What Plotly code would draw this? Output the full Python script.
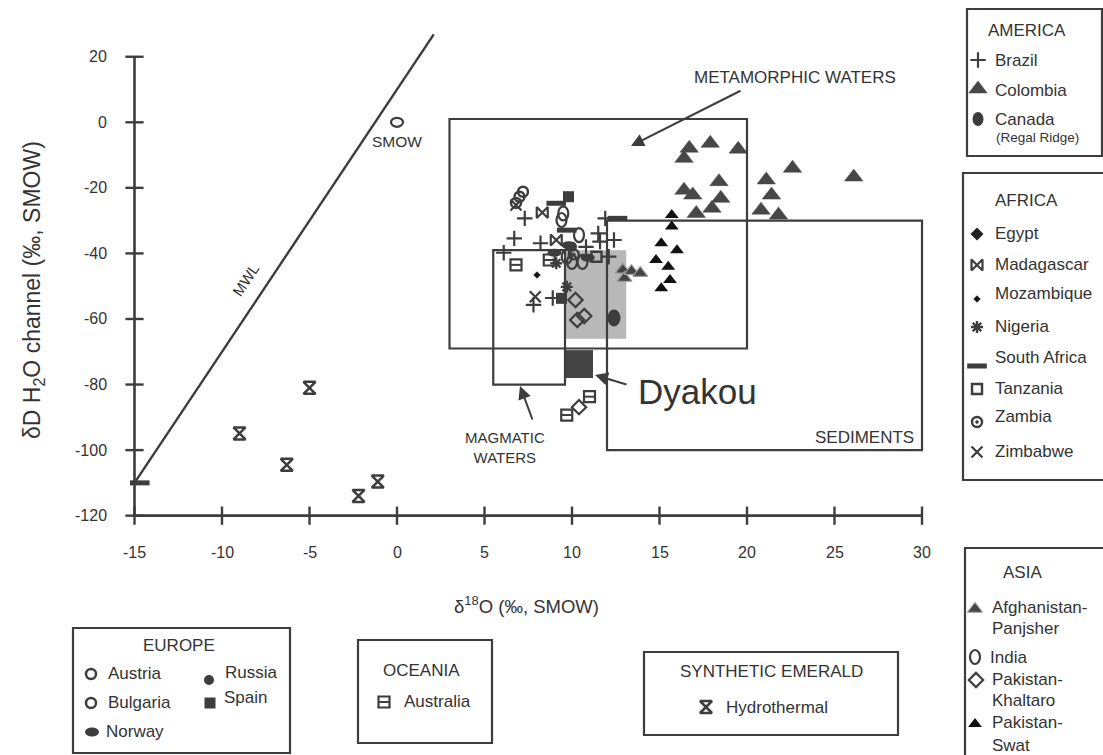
import plotly.graph_objects as go

# ---------------- data ----------------
x_ticks = [-15, -10, -5, 0, 5, 10, 15, 20, 25, 30]
y_ticks = [20, 0, -20, -40, -60, -80, -100, -120]

mwl_x = [-15, 2.1]
mwl_y = [-110, 26.8]

# fields: metamorphic, sediments, magmatic
field_x0 = [3, 12, 5.5]
field_x1 = [20, 30, 9.6]
field_y0 = [-69, -100, -80]
field_y1 = [1, -30, -39]

dyakou_grey_x = [9.6, 13.1]
dyakou_grey_y = [-66, -39]
dyakou_dark_x = [9.6, 11.2]
dyakou_dark_y = [-78, -69.5]

brazil_x = [7.3, 6.7, 8.2, 6.1, 7.8, 8.9, 11.9, 11.5, 12.4, 11.6, 12.1, 10.8]
brazil_y = [-29.3, -35.4, -36.9, -39.8, -55.7, -53.6, -29.3, -33.9, -35.9, -36.4, -41.0, -38.0]

colombia_x = [16.7, 16.4, 17.9, 19.5, 16.4, 16.9, 18.4, 18.5, 18.0, 17.1, 21.1, 21.4, 20.8, 21.8, 22.6, 26.1]
colombia_y = [-7.9, -11.0, -6.4, -8.2, -20.7, -22.2, -18.1, -23.2, -26.2, -27.8, -17.6, -22.2, -26.8, -28.3, -14.0, -16.7]

canada_x = [12.4]
canada_y = [-59.7]

madagascar_x = [8.3, 9.1]
madagascar_y = [-27.5, -35.9]

mozambique_x = [8.0]
mozambique_y = [-46.6]

nigeria_x = [9.7, 9.1]
nigeria_y = [-50.2, -43.0]

southafrica_x = [9.1, 9.7, 12.6, -14.7]
southafrica_y = [-24.7, -32.9, -29.3, -110]

tanzania_x = [11.4]
tanzania_y = [-41.0]

zambia_x = [10.1]
zambia_y = [-40.3]

zimbabwe_x = [6.8, 7.9]
zimbabwe_y = [-25.2, -53.2]

austria_x = [7.2, 6.8]
austria_y = [-21.2, -24.6]
bulgaria_x = [7.0]
bulgaria_y = [-22.7]
norway_x = [9.0, 9.8, 10.9]
norway_y = [-39.8, -37.5, -41.3]
russia_x = [10.0]
russia_y = [-38.0]
spain_x = [9.8, 9.4]
spain_y = [-22.7, -53.7]

afghan_x = [12.9, 13.0, 13.4, 13.9]
afghan_y = [-45.0, -47.5, -45.4, -46.0]
india_x = [9.4, 9.5, 10.4, 10.6, 9.7, 10.0]
india_y = [-29.8, -27.8, -34.4, -42.6, -41.0, -42.6]
khaltaro_x = [10.2, 10.3, 10.7, 10.4]
khaltaro_y = [-54.2, -60.3, -59.1, -86.9]
swat_x = [15.7, 15.7, 15.1, 16.0, 14.8, 15.5, 15.6, 15.1]
swat_y = [-28.3, -31.8, -36.9, -39.0, -42.0, -44.1, -48.1, -50.6]

australia_x = [6.8, 8.7, 9.7, 11.0]
australia_y = [-43.5, -42.0, -89.3, -83.7]

hydro_x = [-9.0, -5.0, -6.3, -2.2, -1.1]
hydro_y = [-94.9, -81.0, -104.5, -114.0, -109.6]

smow_x = [0]
smow_y = [0]

# ---------------- geometry ----------------
W, H = 1103, 755
X0PX, SX = 397.0, 17.5      # pixel of x=0, px per unit
Y0PX, SY = 122.3, 3.278     # pixel of y=0, px per unit
xr = [-X0PX / SX, (W - X0PX) / SX]
yr = [(Y0PX - H) / SY, Y0PX / SY]

DARK = '#3d3d3d'
TXT = '#333333'
FONT = 'Liberation Sans, Arial, Helvetica, sans-serif'

fig = go.Figure()
shapes = []
ann = []


def add_pts(xs, ys, style, pixel=False):
    fig.add_trace(go.Scatter(
        x=xs, y=ys, mode='markers', marker=style, hoverinfo='skip', showlegend=False,
        xaxis='x2' if pixel else 'x', yaxis='y2' if pixel else 'y'))


def add_ellipses(xs, ys, wpx, hpx, filled, pixel=False, lw=2.2):
    for x, y in zip(xs, ys):
        if pixel:
            dx, dy = wpx / 2, hpx / 2
            ref = ('x2', 'y2')
        else:
            dx, dy = wpx / 2 / SX, hpx / 2 / SY
            ref = ('x', 'y')
        shapes.append(dict(type='circle', xref=ref[0], yref=ref[1],
                           x0=x - dx, x1=x + dx, y0=y - dy, y1=y + dy,
                           line=dict(color=DARK, width=0 if filled else lw),
                           fillcolor=DARK if filled else 'rgba(0,0,0,0)', layer='above'))


def opn(symbol, size, w=2.2):
    return dict(symbol=symbol, size=size, color=DARK, line=dict(width=w, color=DARK))


styles = {
    'Brazil': opn('cross-thin-open', 11, 2.2),
    'Colombia': dict(symbol='triangle-up', size=16, color='#474747', line=dict(width=0.5, color='#474747')),
    'Egypt': dict(symbol='diamond', size=10, color='#222', line=dict(width=0)),
    'Madagascar': opn('bowtie-open', 11, 2.2),
    'Mozambique': dict(symbol='diamond', size=7, color='#111', line=dict(width=1.5, color='#eeeeee')),
    'Nigeria': opn('asterisk-open', 10, 2.4),
    'South Africa': opn('line-ew', 14, 5),
    'Tanzania': opn('square-open', 10, 2.4),
    'Zambia': opn('circle-open-dot', 10, 2.4),
    'Zimbabwe': opn('x-thin-open', 11, 2.2),
    'Austria': opn('circle-open', 10, 2.5),
    'Bulgaria': opn('circle-open', 10, 2.5),
    'Russia': dict(symbol='circle', size=10, color=DARK, line=dict(width=0)),
    'Spain': dict(symbol='square', size=11, color=DARK, line=dict(width=0)),
    'Afghanistan': dict(symbol='triangle-up', size=13, color='#444', line=dict(width=1.2, color='#9a9a9a')),
    'Khaltaro': opn('diamond-open', 11, 2.2),
    'Swat': dict(symbol='triangle-up', size=12, color='#111', line=dict(width=0)),
    'Australia': opn('square-open', 11, 2.2),
    'AustraliaBar': opn('line-ew', 7, 2),
    'Hydrothermal': opn('hourglass-open', 12, 2.5),
}

# ---------------- fields ----------------
shapes.append(dict(type='rect', xref='x', yref='y', x0=dyakou_grey_x[0], x1=dyakou_grey_x[1],
                   y0=dyakou_grey_y[0], y1=dyakou_grey_y[1], fillcolor='#b8b8b8',
                   line=dict(width=0), layer='below'))
shapes.append(dict(type='rect', xref='x', yref='y', x0=dyakou_dark_x[0], x1=dyakou_dark_x[1],
                   y0=dyakou_dark_y[0], y1=dyakou_dark_y[1], fillcolor='#444444',
                   line=dict(width=0), layer='below'))
for a, b, c, d in zip(field_x0, field_x1, field_y0, field_y1):
    shapes.append(dict(type='rect', xref='x', yref='y', x0=a, x1=b, y0=c, y1=d,
                       line=dict(color=DARK, width=2.2), layer='below'))

# axes spines
shapes.append(dict(type='line', xref='x', yref='y', x0=x_ticks[0], x1=x_ticks[0],
                   y0=y_ticks[-1], y1=y_ticks[0], line=dict(color=DARK, width=2.6), layer='below'))
shapes.append(dict(type='line', xref='x', yref='y', x0=x_ticks[0], x1=x_ticks[-1],
                   y0=y_ticks[-1], y1=y_ticks[-1], line=dict(color=DARK, width=2.6), layer='below'))

# ticks (crossing)
fig.add_trace(go.Scatter(x=[x_ticks[0]] * len(y_ticks), y=y_ticks, mode='markers',
                         marker=opn('line-ew', 13, 2.4), hoverinfo='skip', showlegend=False))
fig.add_trace(go.Scatter(x=x_ticks, y=[y_ticks[-1]] * len(x_ticks), mode='markers',
                         marker=opn('line-ns', 13, 2.4), hoverinfo='skip', showlegend=False))
for v in y_ticks:
    ann.append(dict(x=x_ticks[0], y=v, xref='x', yref='y', text=str(v), showarrow=False,
                    xanchor='right', yanchor='middle', xshift=-26, font=dict(size=16, color=TXT)))
for v in x_ticks:
    ann.append(dict(x=v, y=y_ticks[-1], xref='x', yref='y', text=str(v), showarrow=False,
                    xanchor='center', yanchor='middle', yshift=-37, font=dict(size=16, color=TXT)))

# MWL
fig.add_trace(go.Scatter(x=mwl_x, y=mwl_y, mode='lines', line=dict(color=DARK, width=2.4),
                         hoverinfo='skip', showlegend=False))

# ---------------- data points ----------------
add_pts(hydro_x, hydro_y, styles['Hydrothermal'])
add_pts(australia_x, australia_y, styles['Australia'])
add_pts(australia_x, australia_y, styles['AustraliaBar'])
add_pts(austria_x, austria_y, styles['Austria'])
add_pts(bulgaria_x, bulgaria_y, styles['Bulgaria'])
add_pts(zimbabwe_x, zimbabwe_y, styles['Zimbabwe'])
add_pts(brazil_x, brazil_y, styles['Brazil'])
add_pts(madagascar_x, madagascar_y, styles['Madagascar'])
add_pts(mozambique_x, mozambique_y, styles['Mozambique'])
add_pts(nigeria_x, nigeria_y, styles['Nigeria'])
add_pts(tanzania_x, tanzania_y, styles['Tanzania'])
add_pts(zambia_x, zambia_y, styles['Zambia'])
add_pts(russia_x, russia_y, styles['Russia'])
add_pts(spain_x, spain_y, styles['Spain'])
add_pts(southafrica_x, southafrica_y, styles['South Africa'])
add_pts(khaltaro_x, khaltaro_y, styles['Khaltaro'])
add_pts(afghan_x, afghan_y, styles['Afghanistan'])
add_pts(swat_x, swat_y, styles['Swat'])
add_pts(colombia_x, colombia_y, styles['Colombia'])
add_ellipses(india_x, india_y, 10, 14, False)
add_ellipses(norway_x, norway_y, 14, 8, True)
add_ellipses(canada_x, canada_y, 13, 17, True)
add_ellipses(smow_x, smow_y, 12, 9, False)

# ---------------- chart annotations ----------------
def pann(x, y, text, size=15, **kw):
    d = dict(x=x, y=y, xref='x2', yref='y2', text=text, showarrow=False,
             font=dict(size=size, color=TXT, family=FONT), xanchor='center', yanchor='middle')
    d.update(kw)
    ann.append(d)


def parrow(hx, hy, tx, ty):
    ann.append(dict(x=hx, y=hy, ax=tx, ay=ty, xref='x2', yref='y2', axref='x2', ayref='y2',
                    text='', showarrow=True, arrowhead=2, arrowsize=1.3, arrowwidth=2,
                    arrowcolor=DARK))


pann(795, 77, 'METAMORPHIC WATERS', size=17)
parrow(631, 146, 742, 90)
pann(505, 447, 'MAGMATIC<br>WATERS', size=15)
parrow(520, 386, 533, 421)
pann(697, 391, 'Dyakou', size=35)
parrow(595, 375, 628, 385)
pann(864, 437, 'SEDIMENTS', size=17)
pann(245, 280, 'MWL', size=15, textangle=-56)
pann(397, 141, 'SMOW', size=15.5)
pann(33, 290, 'δD H<sub>2</sub>O channel (‰, SMOW)', size=23, textangle=-90)
pann(526, 605, 'δ<sup>18</sup>O (‰, SMOW)', size=18.5)

# ---------------- legend boxes ----------------
LS = 17


def box(x0, y0, x1, y1):
    shapes.append(dict(type='rect', xref='x2', yref='y2', x0=x0, x1=x1, y0=y0, y1=y1,
                       line=dict(color=DARK, width=2.2), fillcolor='rgba(0,0,0,0)'))


def item(mx, my, key, tx, ty, text, size=LS):
    add_pts([mx], [my], styles[key], pixel=True)
    pann(tx, ty, text, size=size, xanchor='left')


box(967, 9, 1102, 156)
pann(1027, 30, 'AMERICA', size=LS)
item(978, 60, 'Brazil', 993, 60, 'Brazil')
item(978, 89, 'Colombia', 993, 90, 'Colombia')
add_ellipses([978], [119], 11, 14, True, pixel=True)
pann(993, 119, 'Canada', size=LS, xanchor='left')
pann(994, 137, '(Regal Ridge)', size=13.5, xanchor='left')

box(963, 173, 1115, 480)
pann(1026, 200, 'AFRICA', size=LS)
item(977, 234, 'Egypt', 993, 233, 'Egypt')
item(977, 265, 'Madagascar', 993, 264, 'Madagascar')
item(977, 299, 'Mozambique', 993, 293, 'Mozambique')
item(977, 327, 'Nigeria', 993, 326, 'Nigeria')
item(977, 366, 'South Africa', 993, 357, 'South Africa')
item(977, 389, 'Tanzania', 993, 388, 'Tanzania')
item(977, 422, 'Zambia', 993, 416, 'Zambia')
item(977, 452, 'Zimbabwe', 993, 451, 'Zimbabwe')

box(965, 548, 1115, 765)
pann(1022, 572, 'ASIA', size=LS)
item(975, 609, 'Afghanistan', 990, 607, 'Afghanistan-')
pann(990, 628, 'Panjsher', size=LS, xanchor='left')
add_ellipses([975], [657], 10, 14, False, pixel=True)
pann(988, 657, 'India', size=LS, xanchor='left')
item(976, 680, 'Khaltaro', 990, 679, 'Pakistan-')
pann(990, 700, 'Khaltaro', size=LS, xanchor='left')
item(975, 724, 'Swat', 990, 722, 'Pakistan-')
pann(990, 745, 'Swat', size=LS, xanchor='left')

box(73, 628, 290, 753)
pann(179, 645, 'EUROPE', size=LS)
item(91, 674, 'Austria', 106, 673, 'Austria')
item(91, 703, 'Bulgaria', 106, 702, 'Bulgaria')
add_ellipses([92], [732], 14, 9, True, pixel=True)
pann(104, 731, 'Norway', size=LS, xanchor='left')
item(209, 680, 'Russia', 223, 672, 'Russia')
item(210, 703, 'Spain', 222, 697, 'Spain')

box(358, 640, 492, 743)
pann(421, 670, 'OCEANIA', size=LS)
add_pts([384], [702], styles['Australia'], pixel=True)
add_pts([384], [702], styles['AustraliaBar'], pixel=True)
pann(402, 701, 'Australia', size=LS, xanchor='left')

box(644, 652, 898, 735)
pann(771, 671, 'SYNTHETIC EMERALD', size=LS)
item(706, 707, 'Hydrothermal', 724, 707, 'Hydrothermal')

fig.update_layout(
    width=W, height=H, autosize=False,
    margin=dict(l=0, r=0, t=0, b=0, pad=0),
    paper_bgcolor='white', plot_bgcolor='white',
    font=dict(family=FONT, color=TXT),
    xaxis=dict(range=xr, domain=[0, 1], visible=False, fixedrange=True),
    yaxis=dict(range=yr, domain=[0, 1], visible=False, fixedrange=True),
    xaxis2=dict(range=[0, W], overlaying='x', visible=False, fixedrange=True, anchor='y2'),
    yaxis2=dict(range=[H, 0], overlaying='y', visible=False, fixedrange=True, anchor='x2'),
    shapes=shapes, annotations=ann, showlegend=False,
)

fig.write_html('out.html', config={'displayModeBar': False})
